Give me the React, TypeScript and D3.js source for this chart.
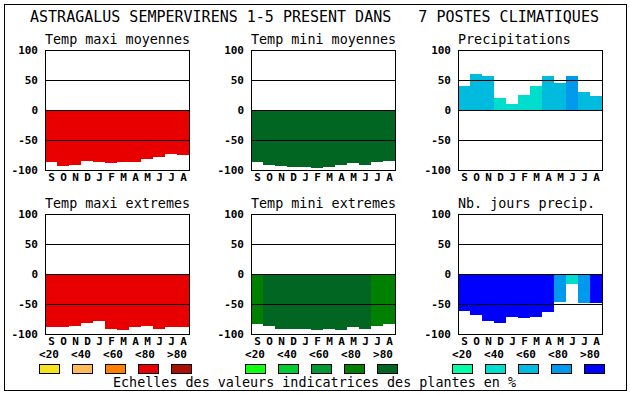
import * as d3 from 'd3';

const W = 630;
const H = 394;

const TITLE = 'ASTRAGALUS SEMPERVIRENS 1-5 PRESENT DANS   7 POSTES CLIMATIQUES';
const FOOTER = 'Echelles des valeurs indicatrices des plantes en %';
const MONTHS = ['S', 'O', 'N', 'D', 'J', 'F', 'M', 'A', 'M', 'J', 'J', 'A'];
const Y_TICKS = [100, 50, 0, -50, -100];
const GRID = [50, 0, -50];
const LEGEND_LABELS = ['<20', '<40', '<60', '<80', '>80'];

const REDS = ['#f6e41c', '#ffbb55', '#ff8000', '#e80000', '#aa1100'];
const GREENS = ['#10ff10', '#00cc33', '#009933', '#008000', '#006622'];
const BLUES = ['#00ffaa', '#00ddcc', '#00bbdd', '#0099ee', '#0000ff'];

// values (temperatures are drawn downwards)
const tmaxMoy = [-87, -93, -92, -85, -87, -88, -87, -87, -82, -78, -73, -75];
const tmaxMoyCat = [3, 3, 3, 3, 3, 3, 3, 3, 3, 3, 3, 3];
const tminMoy = [-87, -92, -93, -95, -95, -97, -95, -92, -88, -92, -87, -85];
const tminMoyCat = [4, 4, 4, 4, 4, 4, 4, 4, 4, 4, 4, 4];
const precip = [40, 60, 57, 20, 10, 25, 40, 57, 45, 57, 30, 23];
const precipCat = [2, 2, 2, 1, 1, 1, 1, 2, 2, 3, 2, 2];
const tmaxExt = [-88, -88, -86, -81, -78, -91, -93, -88, -86, -91, -88, -88];
const tmaxExtCat = [3, 3, 3, 3, 3, 3, 3, 3, 3, 3, 3, 3];
const tminExt = [-84, -86, -91, -91, -91, -93, -91, -93, -88, -91, -86, -84];
const tminExtCat = [3, 4, 4, 4, 4, 4, 4, 4, 4, 4, 3, 3];
const joursPrecip = [-61, -68, -78, -81, -71, -73, -71, -63, -46, -16, -48, -48];
const joursPrecipCat = [4, 4, 4, 4, 4, 4, 4, 4, 3, 1, 3, 4];

const COLS = [45, 251, 458];
const ROWS = [50, 214];
const PW = 144;
const PH = 120;
const FONT = "'DejaVu Sans Mono', monospace";

type Panel = {
  title: string;
  values: number[];
  cats: number[];
  palette: string[];
  col: number;
  row: number;
};

const panels: Panel[] = [
  { title: 'Temp maxi moyennes', values: tmaxMoy, cats: tmaxMoyCat, palette: REDS, col: 0, row: 0 },
  { title: 'Temp mini moyennes', values: tminMoy, cats: tminMoyCat, palette: GREENS, col: 1, row: 0 },
  { title: 'Precipitations', values: precip, cats: precipCat, palette: BLUES, col: 2, row: 0 },
  { title: 'Temp maxi extremes', values: tmaxExt, cats: tmaxExtCat, palette: REDS, col: 0, row: 1 },
  { title: 'Temp mini extremes', values: tminExt, cats: tminExtCat, palette: GREENS, col: 1, row: 1 },
  { title: 'Nb. jours precip.', values: joursPrecip, cats: joursPrecipCat, palette: BLUES, col: 2, row: 1 },
];

const PALETTES = [REDS, GREENS, BLUES];

const ClimatePanel = ({ p }: { p: Panel }) => {
  const x = d3.scaleBand<number>().domain(d3.range(MONTHS.length)).range([0, PW]).padding(0);
  const y = d3.scaleLinear().domain([-100, 100]).range([PH, 0]);
  return (
    <g transform={`translate(${COLS[p.col]},${ROWS[p.row]})`}>
      <text x={0} y={-11} dy="0.35em" fontSize={13.4} fontFamily={FONT}>
        {p.title}
      </text>
      {p.values.map((v, i) => (
        <rect
          key={i}
          x={x(i)}
          width={x.bandwidth()}
          y={y(Math.max(0, v))}
          height={Math.abs(y(v) - y(0))}
          fill={p.palette[p.cats[i]]}
          shapeRendering="crispEdges"
        />
      ))}
      {GRID.map((g) => (
        <line key={g} x1={0} x2={PW} y1={y(g) + 0.5} y2={y(g) + 0.5} stroke="#000" />
      ))}
      <rect x={0.5} y={0.5} width={PW} height={PH} fill="none" stroke="#000" />
      {Y_TICKS.map((t) => (
        <text
          key={t}
          x={-7}
          y={y(t)}
          dy="0.35em"
          textAnchor="end"
          fontSize={11}
          fontWeight="bold"
          fontFamily={FONT}
        >
          {t}
        </text>
      ))}
      {MONTHS.map((m, i) => (
        <text
          key={i}
          x={(x(i) || 0) + x.bandwidth() / 2 + 0.5}
          y={PH + 7}
          dy="0.35em"
          textAnchor="middle"
          fontSize={11}
          fontWeight="bold"
          fontFamily={FONT}
        >
          {m}
        </text>
      ))}
    </g>
  );
};

export default function App() {
  return (
    <div style={{ position: 'fixed', left: 0, top: 0 }}>
      <svg width={W} height={H} style={{ display: 'block', background: '#fff' }}>
        <rect x={4.5} y={4.5} width={622} height={386} fill="#fff" stroke="#000" />
        <text x={314.5} y={17} dy="0.35em" textAnchor="middle" fontSize={15} fontFamily={FONT} xmlSpace="preserve">
          {TITLE}
        </text>
        {panels.map((p, i) => (
          <ClimatePanel key={i} p={p} />
        ))}
        {PALETTES.map((pal, gi) => (
          <g key={gi} transform={`translate(${COLS[gi] - 6},0)`}>
            {LEGEND_LABELS.map((l, i) => (
              <text
                key={l}
                x={i * 32 + 10}
                y={354}
                dy="0.35em"
                textAnchor="middle"
                fontSize={11}
                fontWeight="bold"
                fontFamily={FONT}
              >
                {l}
              </text>
            ))}
            {pal.map((c, i) => (
              <rect key={c} x={i * 33 + 0.5} y={364.5} width={20} height={9} fill={c} stroke="#000" />
            ))}
          </g>
        ))}
        <text x={314.5} y={382} dy="0.35em" textAnchor="middle" fontSize={13.4} fontFamily={FONT}>
          {FOOTER}
        </text>
      </svg>
    </div>
  );
}
